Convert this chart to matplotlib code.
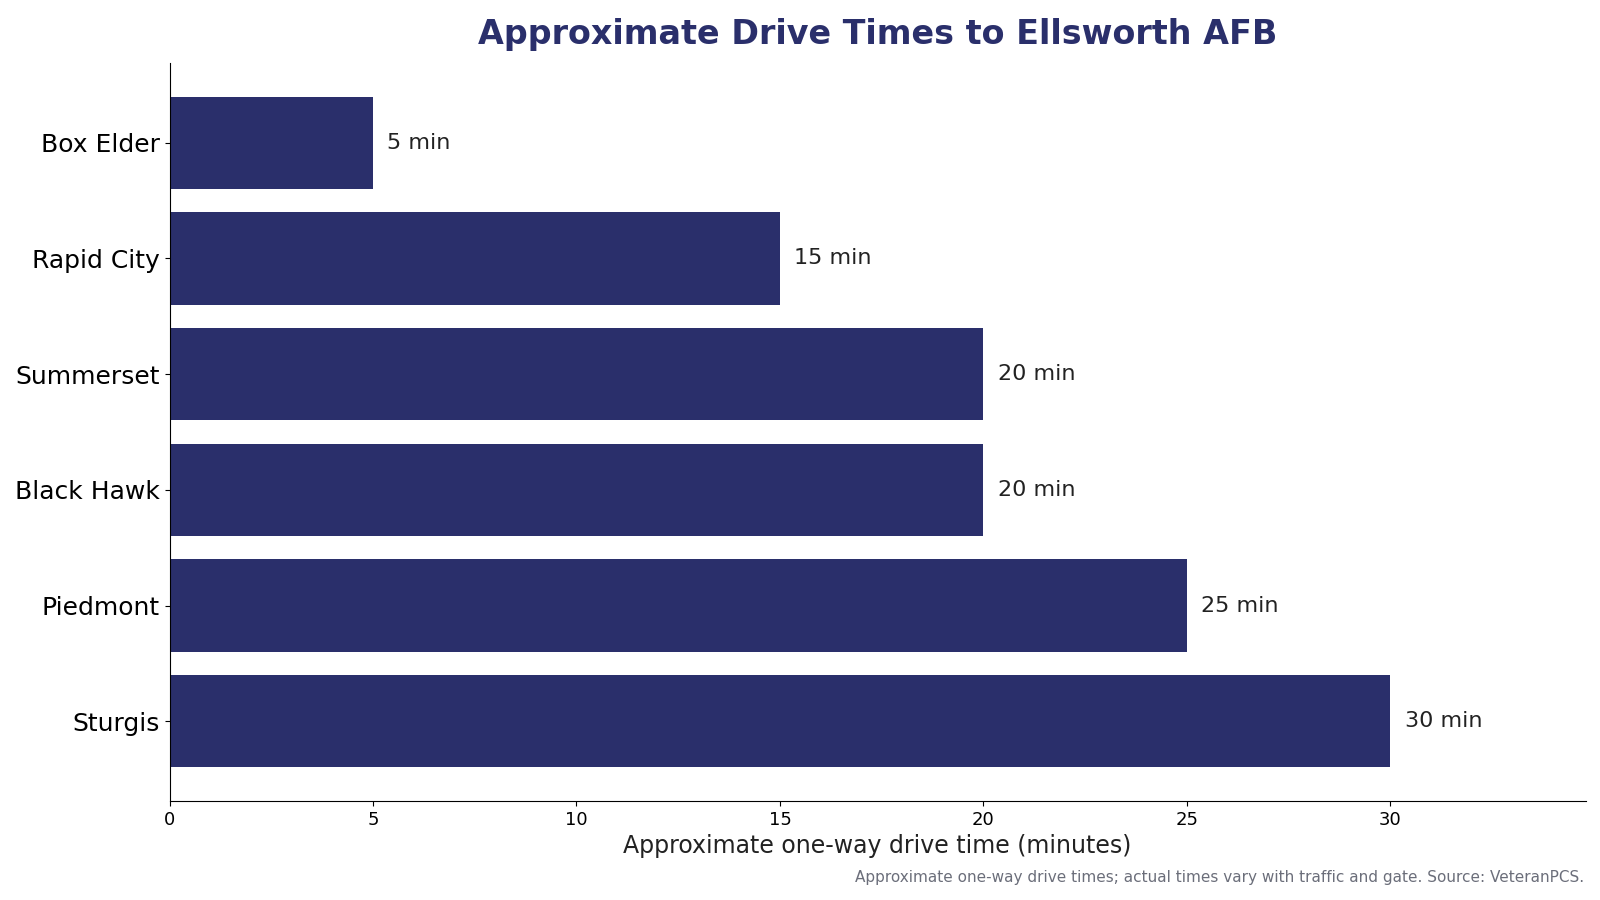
import numpy as np
import matplotlib
matplotlib.use("Agg")
import matplotlib.pyplot as plt

# data
towns = ["Box Elder", "Rapid City", "Summerset", "Black Hawk", "Piedmont", "Sturgis"]
minutes = [5, 15, 20, 20, 25, 30]

navy = "#2a2f6b"

fig = plt.figure(figsize=(16, 9), dpi=100)
ax = fig.add_axes([0.106, 0.11, 0.885, 0.82])

y = np.arange(len(towns))
ax.barh(y, minutes, height=0.8, color=navy)
ax.set_yticks(y)
ax.set_yticklabels(towns, fontsize=18)
ax.invert_yaxis()

for yi, m in zip(y, minutes):
    ax.text(m + 0.35, yi, f"{m} min", va="center", ha="left", fontsize=16, color="#222222")

ax.set_xlim(0, 34.8)
ax.set_xticks([0, 5, 10, 15, 20, 25, 30])
ax.tick_params(axis="x", labelsize=13)
ax.set_xlabel("Approximate one-way drive time (minutes)", fontsize=17, color="#222222")

ax.spines["top"].set_visible(False)
ax.spines["right"].set_visible(False)

ax.set_title("Approximate Drive Times to Ellsworth AFB", fontsize=24, fontweight="bold",
             color=navy, pad=14)

fig.text(0.99, 0.025, "Approximate one-way drive times; actual times vary with traffic and gate. Source: VeteranPCS.",
         ha="right", va="center", fontsize=11, color="#6b6e7a")

fig.savefig("out.png", dpi=100)
